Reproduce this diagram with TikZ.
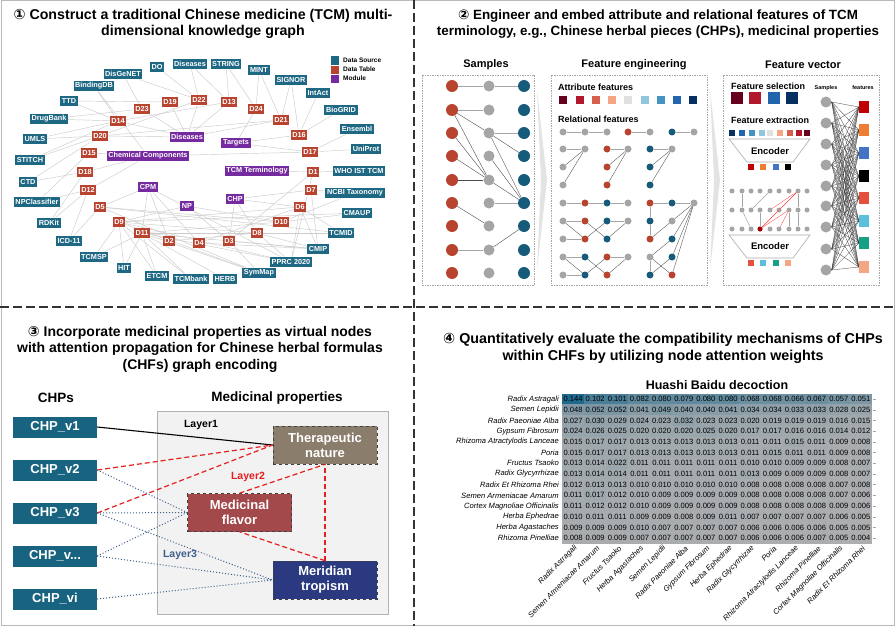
\documentclass[tikz,border=0pt]{standalone}
\usepackage{fontspec}
\setmainfont{Liberation Sans}
\newfontfamily\dvs{DejaVu Sans}
\usetikzlibrary{backgrounds}
\definecolor{dsC}{RGB}{30,104,132}
\definecolor{dtC}{RGB}{184,68,48}
\definecolor{mdC}{RGB}{118,42,160}
\definecolor{sred}{RGB}{184,68,48}
\definecolor{sgray}{RGB}{165,165,165}
\definecolor{steal}{RGB}{22,92,122}
\definecolor{rb1}{RGB}{103,0,31}
\definecolor{rb2}{RGB}{178,24,43}
\definecolor{rb3}{RGB}{214,96,77}
\definecolor{rb4}{RGB}{244,165,130}
\definecolor{rb5}{RGB}{224,224,224}
\definecolor{rb6}{RGB}{146,197,222}
\definecolor{rb7}{RGB}{67,147,195}
\definecolor{rb8}{RGB}{33,102,172}
\definecolor{rb9}{RGB}{5,48,97}
\definecolor{fA}{RGB}{192,0,0}
\definecolor{fB}{RGB}{237,125,49}
\definecolor{fC}{RGB}{68,114,196}
\definecolor{fD}{RGB}{0,0,0}
\definecolor{fE}{RGB}{228,80,60}
\definecolor{fF}{RGB}{91,192,222}
\definecolor{fG}{RGB}{22,160,133}
\definecolor{fH}{RGB}{244,165,130}
\definecolor{chpC}{RGB}{24,100,128}
\definecolor{therC}{RGB}{139,125,107}
\definecolor{flavC}{RGB}{163,72,75}
\definecolor{merC}{RGB}{43,58,128}
\definecolor{lthreeC}{RGB}{60,95,140}
\definecolor{redD}{RGB}{230,30,30}
\definecolor{hmLow}{RGB}{172,174,176}
\definecolor{hmHigh}{RGB}{30,105,140}
\tikzset{
  ttl/.style={font=\fontsize{#1}{16.5}\selectfont\bfseries, align=center, inner sep=0pt},
  sub/.style={font=\fontsize{11}{13}\selectfont\bfseries, inner sep=0pt},
  kg/.style={rectangle, text=white, font=\fontsize{7.3}{8}\selectfont\bfseries, inner xsep=1.6pt, inner ysep=0.8pt, minimum height=10.5pt},
  ds/.style={kg, fill=dsC},
  dt/.style={kg, fill=dtC},
  md/.style={kg, fill=mdC},
  kge/.style={draw=gray!40, line width=0.45pt},
  lgt/.style={font=\fontsize{6.5}{7}\selectfont\bfseries, anchor=west, inner sep=0pt},
  bigr/.style={circle, fill=sred, minimum size=12pt, inner sep=0pt},
  bigg/.style={circle, fill=sgray, minimum size=11pt, inner sep=0pt},
  bigt/.style={circle, fill=steal, minimum size=12pt, inner sep=0pt},
  mg/.style={circle, fill=sgray, minimum size=7pt, inner sep=0pt},
  mr/.style={circle, fill=sred, minimum size=7pt, inner sep=0pt},
  mt/.style={circle, fill=steal, minimum size=7pt, inner sep=0pt},
  edg/.style={draw=sgray, line width=0.7pt},
  edk/.style={draw=black!70, line width=0.4pt},
  fbox/.style={draw=gray!70, line width=0.5pt, dash pattern=on 1.5pt off 1pt},
  ftx/.style={font=\fontsize{9}{10}\selectfont\bfseries, anchor=west, inner sep=0pt},
  sq/.style={rectangle, inner sep=0pt, minimum size=#1},
  dotn/.style={circle, fill=sgray, minimum size=5pt, inner sep=0pt},
  enc/.style={draw=gray!65, line width=0.6pt, fill=white},
  chp/.style={rectangle, fill=chpC, text=white, font=\fontsize{13}{15}\selectfont\bfseries, minimum width=84pt, minimum height=21pt, inner sep=0pt},
  mp/.style={rectangle, draw=black!75, dashed, line width=0.7pt, text=white, font=\fontsize{13}{15}\selectfont\bfseries, align=center, minimum width=104pt, minimum height=38pt, inner sep=0pt},
  redl/.style={draw=redD, line width=1.2pt, dash pattern=on 5pt off 3pt},
  bluel/.style={draw=lthreeC, line width=1pt, dotted},
  hmtxt/.style={font=\fontsize{7.6}{8}\selectfont, inner sep=0pt},
  rowlab/.style={font=\fontsize{7.6}{8}\selectfont\itshape, inner sep=0pt}
}
\begin{document}
\begin{tikzpicture}[x=1pt,y=-1pt]
\useasboundingbox (0,0) rectangle (896,626);
\begin{scope}[on background layer]
\fill[white] (0,0) rectangle (896,626);
\end{scope}
\draw[gray!55, line width=1pt] (1,1) rectangle (894.5,625);
\draw[black!80, line width=1.6pt, dash pattern=on 9pt off 4pt] (414,0) -- (414,626);
\draw[black!80, line width=1.6pt, dash pattern=on 9pt off 4pt] (0,307) -- (896,307);

% ================= Panel 1 =================
\node[ttl=14.2] (t1) at (203,24) {{\dvs ①} Construct a traditional Chinese medicine (TCM) multi-\\dimensional knowledge graph};
% legend
\fill[dsC] (331,56.5) rectangle (339,64.5);
\fill[dtC] (331,65.5) rectangle (339,73.5);
\fill[mdC] (331,74.5) rectangle (339,82.5);
\node[lgt] (lg1) at (343,60.5) {Data Source};
\node[lgt] (lg2) at (343,69.5) {Data Table};
\node[lgt] (lg3) at (343,78.5) {Module};
% data sources
\node[ds] (DO) at (157,67) {DO};
\node[ds] (DisT) at (190,64) {Diseases};
\node[ds] (STRING) at (226,64) {STRING};
\node[ds] (MINT) at (259,70) {MINT};
\node[ds] (SIGNOR) at (291,80) {SIGNOR};
\node[ds] (IntAct) at (318,93) {IntAct};
\node[ds] (BioGRID) at (341,110) {BioGRID};
\node[ds] (Ensembl) at (357,129) {Ensembl};
\node[ds] (UniProt) at (366,149) {UniProt};
\node[ds] (WHO) at (359,171) {WHO IST TCM};
\node[ds] (NCBI) at (355,193) {NCBI Taxonomy};
\node[ds] (CMAUP) at (357,213) {CMAUP};
\node[ds] (TCMID) at (341,233) {TCMID};
\node[ds] (CMIP) at (318,249) {CMIP};
\node[ds] (PPRC) at (291,262) {PPRC 2020};
\node[ds] (SymMap) at (259,273) {SymMap};
\node[ds] (HERB) at (225,279) {HERB};
\node[ds] (TCMbank) at (191,279) {TCMbank};
\node[ds] (ETCM) at (157,276) {ETCM};
\node[ds] (HIT) at (124,268) {HIT};
\node[ds] (TCMSP) at (94,257) {TCMSP};
\node[ds] (ICD) at (69,241) {ICD-11};
\node[ds] (RDKit) at (49,223) {RDKit};
\node[ds] (NPC) at (37,202) {NPClassifier};
\node[ds] (CTD) at (28,182) {CTD};
\node[ds] (STITCH) at (30,160) {STITCH};
\node[ds] (UMLS) at (35,139) {UMLS};
\node[ds] (DrugBank) at (49,119) {DrugBank};
\node[ds] (TTD) at (69,101) {TTD};
\node[ds] (BindingDB) at (94,86) {BindingDB};
\node[ds] (DisGeNET) at (123,74) {DisGeNET};
% data tables
\node[dt] (D22) at (199,100) {D22};
\node[dt] (D19) at (170,102) {D19};
\node[dt] (D13) at (229,102) {D13};
\node[dt] (D23) at (142,109) {D23};
\node[dt] (D24) at (256,109) {D24};
\node[dt] (D14) at (118,121) {D14};
\node[dt] (D21) at (281,120) {D21};
\node[dt] (D16) at (299,135) {D16};
\node[dt] (D20) at (100,136) {D20};
\node[dt] (D17) at (310,152) {D17};
\node[dt] (D15) at (89,153) {D15};
\node[dt] (D18) at (85,172) {D18};
\node[dt] (D1) at (313,172) {D1};
\node[dt] (D12) at (88,190) {D12};
\node[dt] (D7) at (311,190) {D7};
\node[dt] (D5) at (100,207) {D5};
\node[dt] (D6) at (300,207) {D6};
\node[dt] (D9) at (119,222) {D9};
\node[dt] (D10) at (281,222) {D10};
\node[dt] (D11) at (142,233) {D11};
\node[dt] (D8) at (257,233) {D8};
\node[dt] (D2) at (169,241) {D2};
\node[dt] (D4) at (199,243) {D4};
\node[dt] (D3) at (229,241) {D3};
% modules
\node[md] (Diseases) at (187,137) {Diseases};
\node[md] (ChemComp) at (148,156) {Chemical Components};
\node[md] (Targets) at (236,143) {Targets};
\node[md] (TCMTerm) at (257,171) {TCM Terminology};
\node[md] (CPM) at (148,187) {CPM};
\node[md] (NP) at (187,206) {NP};
\node[md] (CHP) at (235,199) {CHP};
\begin{scope}[on background layer]
\foreach \a/\b in {DO/D22, DisT/D22, DisT/D13, STRING/D13, STRING/D24, MINT/D21, MINT/D24, SIGNOR/D16, SIGNOR/D21, IntAct/D16, BioGRID/D16, Ensembl/D17, UniProt/D17, WHO/D1, NCBI/D10, NCBI/D7, CMAUP/D10, CMAUP/D9, TCMID/D8, TCMID/D5, TCMID/D6, CMIP/D6, CMIP/D7, CMIP/D3, CMIP/D4, CMIP/D11, CMIP/D8, PPRC/D6, PPRC/D1, PPRC/D8, PPRC/D11, PPRC/D9, PPRC/CPM, SymMap/D11, SymMap/D9, SymMap/D5, SymMap/D3, HERB/D11, TCMbank/D11, TCMbank/D9, ETCM/D11, ETCM/D9, HIT/D9, HIT/D11, TCMSP/D9, TCMSP/D11, ICD/D12, ICD/D5, RDKit/D18, RDKit/D12, NPC/D15, NPC/D12, CTD/D20, CTD/D18, STITCH/D14, STITCH/D20, UMLS/D20, UMLS/D14, DrugBank/D14, DrugBank/D23, TTD/D19, TTD/D14, BindingDB/D14, BindingDB/ChemComp, DisGeNET/D23, DisGeNET/D22}
  \draw[kge] (\a) -- (\b);
\foreach \a/\b in {D22/Diseases, D19/Diseases, D23/Diseases, D14/Diseases, D20/Diseases, D13/Diseases, D21/Diseases, D20/D22, D14/D13, D24/Targets, D16/Targets, D17/Targets, D21/D20, D17/ChemComp, D1/TCMTerm, D1/D3, D7/CHP, D6/CHP, D6/D9, D15/ChemComp, D18/ChemComp, D12/ChemComp, D5/CPM, D5/D10, D9/NP, D9/D8, D11/CPM, D11/D10, D11/D8, D2/CPM, D4/CPM, D3/NP, D3/CHP, D8/CHP, D10/NP, D2/D8, D4/D6}
  \draw[kge] (\a) -- (\b);
\end{scope}

% ================= Panel 2 =================
\node[ttl=13.4] (t2) at (658,24) {{\dvs ②} Engineer and embed attribute and relational features of TCM\\terminology, e.g., Chinese herbal pieces (CHPs), medicinal properties};
\node[sub] (hs) at (486,65) {Samples};
\node[sub] (hfe) at (634,65) {Feature engineering};
\node[sub] (hfv) at (803,65) {Feature vector};
\draw[fbox] (422,75) rectangle (534,285);
\draw[fbox] (551,75) rectangle (707,285);
\draw[fbox] (723,75) rectangle (879,285);
\fill[gray!22] (537,90) -- (547,180) -- (537,270) -- (541,180) -- cycle;
\fill[gray!22] (710,90) -- (720,180) -- (710,270) -- (714,180) -- cycle;
% samples
\foreach \i/\y in {1/86,2/110,3/133,4/156,5/180,6/203,7/226,8/250,9/273} {
  \node[bigr] (sr\i) at (452,\y) {};
  \node[bigg] (sg\i) at (489,\y) {};
  \node[bigt] (st\i) at (524,\y) {};
}
\foreach \a/\b in {sr1/sg1, sg1/st1, sr2/sg2, sg3/st3, sg6/st6, sr8/sg8}
  \draw[edg] (\a) -- (\b);
\foreach \a/\b in {sr2/sg3, sr2/sg5, sr3/sg5, sr4/sg5, sr5/sg5, sr6/sg7, sg3/st4, sg3/st6, sg4/st6, sg5/st6, sg8/st7}
  \draw[edk] (\a) -- (\b);
% feature engineering
\node[ftx] (af) at (558,87) {Attribute features};
\foreach \i/\x in {1/563,2/580,3/596,4/612,5/628,6/645,7/661,8/677,9/693}
  \node[sq=8pt, fill=rb\i] (at\i) at (\x,100) {};
\node[ftx] (rf) at (558,119) {Relational features};
\node[mg] (a1) at (563,132) {}; \node[mg] (a2) at (585,132) {}; \node[mg] (a3) at (607,132) {};
\node[mr] (a4) at (628,132) {}; \node[mg] (a5) at (650,132) {};
\node[mt] (a6) at (672,132) {}; \node[mg] (a7) at (694,132) {};
\node[mg] (b11) at (563,149) {}; \node[mg] (b12) at (563,167) {}; \node[mg] (b13) at (563,185) {}; \node[mg] (b1h) at (585,149) {};
\node[mr] (b21) at (607,149) {}; \node[mr] (b22) at (607,167) {}; \node[mr] (b23) at (607,185) {}; \node[mg] (b2h) at (628,149) {};
\node[mt] (b31) at (650,149) {}; \node[mt] (b32) at (650,167) {}; \node[mt] (b33) at (650,185) {}; \node[mg] (b3h) at (672,149) {};
\node[mg] (p1) at (563,203) {}; \node[mr] (p2) at (585,203) {}; \node[mt] (p3) at (607,203) {}; \node[mg] (p4) at (628,203) {};
\node[mg] (q1) at (563,221) {}; \node[mr] (q2) at (585,221) {}; \node[mt] (q3) at (607,221) {}; \node[mg] (q4) at (628,221) {};
\node[mg] (s1) at (563,239) {}; \node[mr] (s2) at (585,239) {}; \node[mt] (s3) at (607,239) {};
\node[mg] (u1) at (563,257) {}; \node[mt] (u2) at (585,257) {}; \node[mr] (u3) at (607,257) {}; \node[mg] (u4) at (628,257) {};
\node[mg] (w1) at (563,275) {}; \node[mt] (w2) at (585,275) {}; \node[mr] (w3) at (607,275) {};
\node[mr] (r1) at (650,203) {}; \node[mt] (r2) at (672,203) {}; \node[mg] (r3) at (694,203) {};
\node[mt] (r4) at (650,221) {}; \node[mg] (r5) at (672,221) {};
\node[mr] (r6) at (650,239) {}; \node[mt] (r7) at (672,239) {};
\node[mg] (r8) at (650,257) {}; \node[mt] (r9) at (672,257) {};
\node[mt] (r10) at (650,275) {}; \node[mr] (r11) at (672,275) {};
\foreach \a/\b in {a1/a2, a2/a3, a4/a5, a6/a7, b11/b1h, b21/b2h, b31/b3h, p1/p2, p2/p3, p3/p4, q1/q2, s1/s2, q3/q4, u1/u2, w1/w2, u3/u4, r1/r2, r2/r3, r1/r4, r4/r6, r8/r10}
  \draw[edg, line width=0.6pt] (\a) -- (\b);
\foreach \a/\b in {b12/b1h, b13/b1h, b22/b2h, b23/b2h, b32/b3h, b33/b3h, q1/s2, q2/s3, s2/q3, s3/q4, u1/w2, u2/w3, w2/u3, w3/u4, r3/r5, r3/r7, r3/r9, r3/r11, r6/r5, r8/r7, r10/r9, r8/r11}
  \draw[edk, line width=0.35pt] (\a) -- (\b);
% feature vector
\node[ftx] (fsel) at (731,86) {Feature selection};
\node[sq=12pt, fill=rb1] (fs1) at (737,98) {};
\node[sq=12pt, fill=rb2] (fs2) at (755,98) {};
\node[sq=12pt, fill=rb8] (fs3) at (774,98) {};
\node[sq=12pt, fill=rb9] (fs4) at (792,98) {};
\node[ftx] (fext) at (731,120) {Feature extraction};
\foreach \i/\x/\c in {1/732/rb9,2/742/rb8,3/752/rb7,4/762/rb6,5/770/rb5,6/780/rb4,7/790/rb3,8/799/rb2,9/807/rb1}
  \node[sq=6pt, fill=\c] (fx\i) at (\x,133) {};
\draw[enc] (729,139) -- (810,139) -- (793,162) -- (747,162) -- cycle;
\node[sub, font=\fontsize{9.5}{11}\selectfont\bfseries] (enc1) at (770,151) {Encoder};
\node[sq=6pt, fill=fA] (eo1) at (751,167) {};
\node[sq=6pt, fill=fB] (eo2) at (763,167) {};
\node[sq=6pt, fill=fC] (eo3) at (776,167) {};
\node[sq=6pt, fill=fD] (eo4) at (788,167) {};
\foreach \i/\x in {1/732,2/742,3/751,4/760,5/770,6/779,7/789,8/798,9/807}
  \foreach \j/\y in {1/191,2/210,3/229}
    \node[dotn] (g\i\j) at (\x,\y) {};
\node[dotn, fill=fA!85!black] (gR) at (760,229) {};
\foreach \a/\b in {g21/g22, g22/g33, g32/g51, g42/gR, g81/g82, g72/g73, g82/g83}
  \draw[draw=sgray, line width=0.5pt] (\a) -- (\b);
\foreach \a/\b in {gR/g62, gR/g81, gR/g72, g52/g81, g62/g81, g63/g72}
  \draw[draw=red!70, line width=0.35pt] (\a) -- (\b);
\draw[enc] (729,235) -- (810,235) -- (793,258) -- (747,258) -- cycle;
\node[sub, font=\fontsize{9.5}{11}\selectfont\bfseries] (enc2) at (770,246.5) {Encoder};
\node[sq=6pt, fill=fE] (eu1) at (751,263) {};
\node[sq=6pt, fill=fF] (eu2) at (763,263) {};
\node[sq=6pt, fill=fG] (eu3) at (776,263) {};
\node[sq=6pt, fill=fH] (eu4) at (788,263) {};
\node[font=\fontsize{5.5}{6}\selectfont\bfseries, inner sep=0pt] (fvs) at (826,88) {Samples};
\node[font=\fontsize{5.5}{6}\selectfont\bfseries, inner sep=0pt] (fvf) at (863,88) {features};
\foreach \i/\y in {1/102,2/123,3/144,4/165,5/186,6/206,7/227,8/249,9/270}
  \node[circle, fill=sgray, minimum size=11pt, inner sep=0pt] (vs\i) at (826,\y) {};
\foreach \i/\y/\c in {1/107/fA,2/130/fB,3/153/fC,4/176/fD,5/198/fE,6/221/fF,7/243/fG,8/267/fH}
  \node[rectangle, fill=\c, minimum width=10pt, minimum height=12pt, inner sep=0pt] (vf\i) at (864,\y) {};
\foreach \i in {1,...,9}
  \foreach \j in {1,...,8}
    \draw[black!75, line width=0.3pt] (vs\i.east) -- (vf\j.west);

% ================= Panel 3 =================
\node[ttl=14] (t3) at (200,349) {{\dvs ③} Incorporate medicinal properties as virtual nodes\\with attention propagation for Chinese herbal formulas\\(CHFs) graph encoding};
\node[sub, font=\fontsize{13.5}{15}\selectfont\bfseries] (hchp) at (56,398) {CHPs};
\node[sub, font=\fontsize{13.5}{15}\selectfont\bfseries] (hmp) at (277,398) {Medicinal properties};
\draw[fill=gray!10, draw=gray!60, line width=0.8pt] (157,411) rectangle (388,614);
\node[chp] (c1) at (55,427) {CHP\_v1};
\node[chp] (c2) at (55,470) {CHP\_v2};
\node[chp] (c3) at (55,513) {CHP\_v3};
\node[chp] (c4) at (55,556) {CHP\_v...};
\node[chp] (c5) at (55,599) {CHP\_vi};
\node[mp, fill=therC] (ther) at (325,445) {Therapeutic\\nature};
\node[mp, fill=flavC] (flav) at (239.5,512.5) {Medicinal\\flavor};
\node[mp, fill=merC] (mer) at (325,580) {Meridian\\tropism};
\draw[black, line width=1.1pt] (c1.east) -- (ther.west);
\draw[redl] (c2.east) -- (ther.west);
\draw[redl] (c3.east) -- (ther.west);
\draw[redl] (flav.north) -- (ther.south);
\draw[redl] (mer.north) -- (ther.south);
\draw[redl] (mer.north) -- (flav.south);
\foreach \a/\b in {c2/flav, c3/flav, c4/flav, c3/mer, c4/mer, c5/mer}
  \draw[bluel] (\a.east) -- (\b.west);
\node[font=\fontsize{10.5}{12}\selectfont\bfseries, inner sep=0pt] (l1) at (201,425) {Layer1};
\node[font=\fontsize{10.5}{12}\selectfont\bfseries, text=redD, inner sep=0pt] (l2) at (248,477) {Layer2};
\node[font=\fontsize{10.5}{12}\selectfont\bfseries, text=lthreeC, inner sep=0pt] (l3) at (180,555) {Layer3};

% ================= Panel 4 =================
\node[ttl=14.3] (t4) at (663,348.5) {{\dvs ④} Quantitatively evaluate the compatibility mechanisms of CHPs\\within CHFs by utilizing node attention weights};
\node[sub, font=\fontsize{12.5}{14}\selectfont\bfseries] (hb) at (717,385) {Huashi Baidu decoction};
\def\hx{562}\def\hy{393.7}\def\cw{22.14}\def\rh{10.7}
\foreach \vals [count=\r] in {
 {0.144,0.102,0.101,0.082,0.080,0.079,0.080,0.080,0.068,0.068,0.066,0.067,0.057,0.051},
 {0.048,0.052,0.052,0.041,0.049,0.040,0.040,0.041,0.034,0.034,0.033,0.033,0.028,0.025},
 {0.027,0.030,0.029,0.024,0.023,0.032,0.023,0.023,0.020,0.019,0.019,0.019,0.016,0.015},
 {0.024,0.026,0.025,0.020,0.020,0.020,0.025,0.020,0.017,0.017,0.016,0.016,0.014,0.012},
 {0.015,0.017,0.017,0.013,0.013,0.013,0.013,0.013,0.011,0.011,0.015,0.011,0.009,0.008},
 {0.015,0.017,0.017,0.013,0.013,0.013,0.013,0.013,0.011,0.015,0.011,0.011,0.009,0.008},
 {0.013,0.014,0.022,0.011,0.011,0.011,0.011,0.011,0.010,0.010,0.009,0.009,0.008,0.007},
 {0.013,0.014,0.014,0.011,0.011,0.011,0.011,0.011,0.013,0.009,0.009,0.009,0.008,0.007},
 {0.012,0.013,0.013,0.010,0.010,0.010,0.010,0.010,0.008,0.008,0.008,0.008,0.007,0.008},
 {0.011,0.017,0.012,0.010,0.009,0.009,0.009,0.009,0.008,0.008,0.008,0.008,0.007,0.006},
 {0.011,0.012,0.012,0.010,0.009,0.009,0.009,0.009,0.008,0.008,0.008,0.008,0.009,0.006},
 {0.010,0.011,0.011,0.009,0.009,0.008,0.009,0.011,0.007,0.007,0.007,0.007,0.006,0.005},
 {0.009,0.009,0.009,0.010,0.007,0.007,0.007,0.007,0.006,0.006,0.006,0.006,0.005,0.005},
 {0.008,0.009,0.009,0.007,0.007,0.007,0.007,0.007,0.006,0.006,0.006,0.007,0.005,0.004}} {
  \foreach \v [count=\c] in \vals {
    \pgfmathsetmacro\xa{\hx+(\c-1)*\cw}
    \pgfmathsetmacro\ya{\hy+(\r-1)*\rh}
    \pgfmathtruncatemacro\p{min(100,max(0,(\v-0.004)/0.14*100))}
    \fill[hmHigh!\p!hmLow] (\xa,\ya) rectangle ++(\cw+0.4,\rh+0.4);
    \node[hmtxt] (hc\r c\c) at (\xa+\cw/2,\ya+\rh/2) {\v};
  }
}
\foreach \lab [count=\r] in {Radix Astragali, Semen Lepidii, Radix Paeoniae Alba, Gypsum Fibrosum, Rhizoma Atractylodis Lanceae, Poria, Fructus Tsaoko, Radix Glycyrrhizae, Radix Et Rhizoma Rhei, Semen Armeniacae Amarum, Cortex Magnoliae Officinalis, Herba Ephedrae, Herba Agastaches, Rhizoma Pinelliae} {
  \pgfmathsetmacro\yc{\hy+(\r-0.5)*\rh}
  \node[rowlab, anchor=east] (rl\r) at (559,\yc) {\lab};
  \draw[gray!70, line width=0.4pt] (872.5,\yc) -- (875.5,\yc);
}
\foreach \lab [count=\c] in {Radix Astragali, Semen Armeniacae Amarum, Fructus Tsaoko, Herba Agastaches, Semen Lepidii, Radix Paeoniae Alba, Gypsum Fibrosum, Herba Ephedrae, Radix Glycyrrhizae, Poria, Rhizoma Atractylodis Lanceae, Rhizoma Pinelliae, Cortex Magnoliae Officinalis, Radix Et Rhizoma Rhei} {
  \pgfmathsetmacro\xc{\hx+(\c-0.5)*\cw+3}
  \node[rowlab, anchor=east, rotate=45] (cl\c) at (\xc,547) {\lab};
}
\end{tikzpicture}
\end{document}
